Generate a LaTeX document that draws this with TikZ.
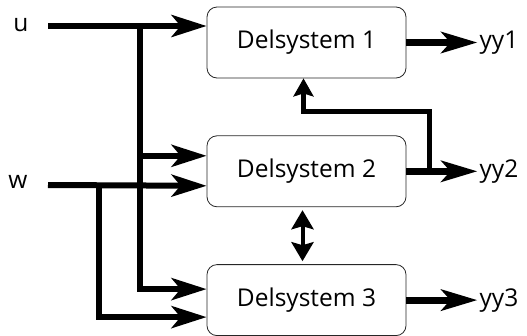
\documentclass[tikz,border=0pt]{standalone}
\usepackage{fontspec}
\setmainfont{Open Sans}
\usetikzlibrary{arrows.meta, positioning, calc}

\begin{document}
\begin{tikzpicture}[
    x=1pt, y=-1pt,
    node distance=57pt,
    box/.style={draw=black!85, line width=0.8pt, rounded corners=10pt, minimum width=199pt, minimum height=71pt, font=\fontsize{24.5}{28}\selectfont},
    lbl/.style={font=\fontsize{24.5}{28}\selectfont, inner sep=2pt},
    arr/.style={-{Stealth[length=35pt, width=22pt, inset=9pt]}, line width=6pt},
    outarr/.style={-{Stealth[length=36pt, width=21pt, inset=9pt]}, line width=7pt},
    fbarr/.style={-{Stealth[length=18pt, width=20pt, inset=3pt]}, line width=5.5pt},
    dblarr/.style={{Stealth[length=19pt, width=22pt, inset=3pt]}-{Stealth[length=19pt, width=22pt, inset=3pt]}, line width=4pt, shorten <=3pt, shorten >=3pt},
]

\useasboundingbox (0,0) rectangle (527,335);

\node[box] (d1) at (306.5,42.5) {Delsystem 1};
\node[box, below=of d1] (d2) {Delsystem 2};
\node[box, below=of d2] (d3) {Delsystem 3};

\node[lbl] (u) at (21,25) {u};
\node[lbl] (w) at (18,182) {w};
\node[lbl, right=71pt of d1] (yy1) {yy1};
\node[lbl, right=71pt of d2] (yy2) {yy2};
\node[lbl, right=71pt of d3] (yy3) {yy3};

% inputs
\coordinate (in1) at ([yshift=16.5pt]d1.west);
\coordinate (in2a) at ([yshift=15.5pt]d2.west);
\coordinate (in2b) at ([yshift=-14.5pt]d2.west);
\coordinate (in3a) at ([yshift=11pt]d3.west);
\coordinate (in3b) at ([yshift=-17pt]d3.west);
\coordinate (u0) at (48,26);
\coordinate (w0) at (48,185);
\coordinate (ju) at (140,26);
\coordinate (jw) at (99,185);

\draw[arr] (u0) -- (in1);
\draw[arr] (w0) -- (in2b);
\draw[arr] (ju) |- (in3a);
\draw[arr] (ju |- in2a) -- (in2a);
\draw[arr] (jw) |- (in3b);

% outputs
\foreach \a/\b in {d1/yy1, d2/yy2, d3/yy3} {
    \draw[outarr] (\a) -- (\b);
}

% feedback
\draw[fbarr] ([xshift=23pt]d2.east) -- ++(0,-60) -| ([xshift=-3pt]d1.south);
\draw[dblarr] ([xshift=-4pt]d2.south) -- ([xshift=-4pt]d3.north);

\end{tikzpicture}
\end{document}
